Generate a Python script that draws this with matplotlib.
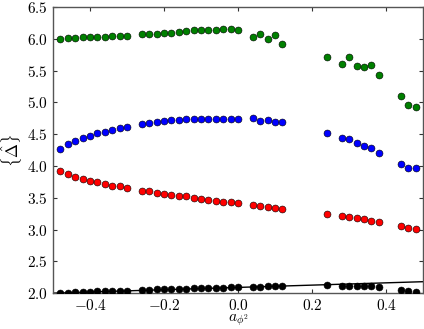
import matplotlib
matplotlib.use("Agg")
import matplotlib.pyplot as plt

plt.rcParams['mathtext.fontset'] = 'cm'
plt.rcParams['font.family'] = 'serif'
plt.rcParams['font.serif'] = ['cmr10', 'DejaVu Serif']
plt.rcParams['axes.formatter.use_mathtext'] = True

# coupling values (gaps in the scan left as separate groups)
a_vals = [-0.48, -0.46, -0.44, -0.42, -0.40, -0.38, -0.36, -0.34, -0.32, -0.30,
          -0.26, -0.24, -0.22, -0.20, -0.18, -0.16, -0.14, -0.12, -0.10, -0.08,
          -0.06, -0.04, -0.02, 0.00,
          0.04, 0.06, 0.08, 0.10, 0.12,
          0.24, 0.28, 0.30, 0.32, 0.34, 0.36, 0.38,
          0.44, 0.46, 0.48]

delta_0 = [2.01, 2.01, 2.02, 2.02, 2.02, 2.03, 2.03, 2.04, 2.04, 2.04,
           2.05, 2.05, 2.06, 2.06, 2.07, 2.07, 2.07, 2.08, 2.08, 2.08,
           2.08, 2.08, 2.09, 2.09,
           2.10, 2.10, 2.11, 2.11, 2.11,
           2.13, 2.12, 2.12, 2.12, 2.11, 2.11, 2.09,
           2.05, 2.03, 2.02]

delta_1 = [3.92, 3.87, 3.82, 3.79, 3.77, 3.74, 3.71, 3.69, 3.68, 3.65,
           3.61, 3.60, 3.58, 3.56, 3.55, 3.53, 3.52, 3.50, 3.48, 3.47,
           3.45, 3.44, 3.43, 3.41,
           3.38, 3.37, 3.36, 3.34, 3.33,
           3.24, 3.21, 3.20, 3.18, 3.16, 3.14, 3.12,
           3.05, 3.03, 3.01]

delta_2 = [4.27, 4.34, 4.39, 4.44, 4.47, 4.51, 4.54, 4.57, 4.59, 4.61,
           4.66, 4.68, 4.69, 4.70, 4.72, 4.72, 4.74, 4.73, 4.73, 4.74,
           4.74, 4.74, 4.74, 4.74,
           4.75, 4.71, 4.72, 4.69, 4.69,
           4.52, 4.44, 4.43, 4.36, 4.32, 4.28, 4.21,
           4.03, 3.96, 3.96]

delta_3 = [6.00, 6.01, 6.01, 6.02, 6.02, 6.03, 6.03, 6.04, 6.05, 6.05,
           6.07, 6.07, 6.08, 6.09, 6.09, 6.11, 6.12, 6.13, 6.14, 6.14,
           6.14, 6.15, 6.15, 6.13,
           6.02, 6.08, 5.99, 6.06, 5.91,
           5.71, 5.60, 5.71, 5.57, 5.55, 5.58, 5.43,
           5.10, 4.96, 4.93]

# reference line near the lowest level
line_a = [-0.5, 0.0, 0.5]
line_delta = [2.00, 2.09, 2.18]

fig = plt.figure(figsize=(4.24, 3.29), dpi=100)
ax = fig.add_axes([0.125, 0.109, 0.873, 0.870])

ax.plot(line_a, line_delta, color='black', linewidth=1.0, zorder=2)
for vals, col in [(delta_0, 'black'), (delta_1, 'red'), (delta_2, 'blue'), (delta_3, 'green')]:
    ax.plot(a_vals, vals, 'o', color=col, markersize=5, markeredgecolor='black',
            markeredgewidth=0.4, linestyle='none', zorder=3)

ax.set_xlim(-0.5, 0.5)
ax.set_ylim(2.0, 6.5)
ax.set_xticks([-0.4, -0.2, 0.0, 0.2, 0.4])
ax.set_yticks([2.0, 2.5, 3.0, 3.5, 4.0, 4.5, 5.0, 5.5, 6.0, 6.5])
ax.tick_params(direction='in', top=True, right=True, length=3, width=0.8,
               labelsize=11, colors='#333333', labelcolor='black')
for s in ax.spines.values():
    s.set_color('#555555')
    s.set_linewidth(1.0)

ax.set_xlabel(r'$a_{\phi^2}$', fontsize=11, labelpad=0)
ax.set_ylabel(r'$\{\hat{\Delta}\}$', fontsize=12, labelpad=2)

fig.savefig('out.png', dpi=100)
